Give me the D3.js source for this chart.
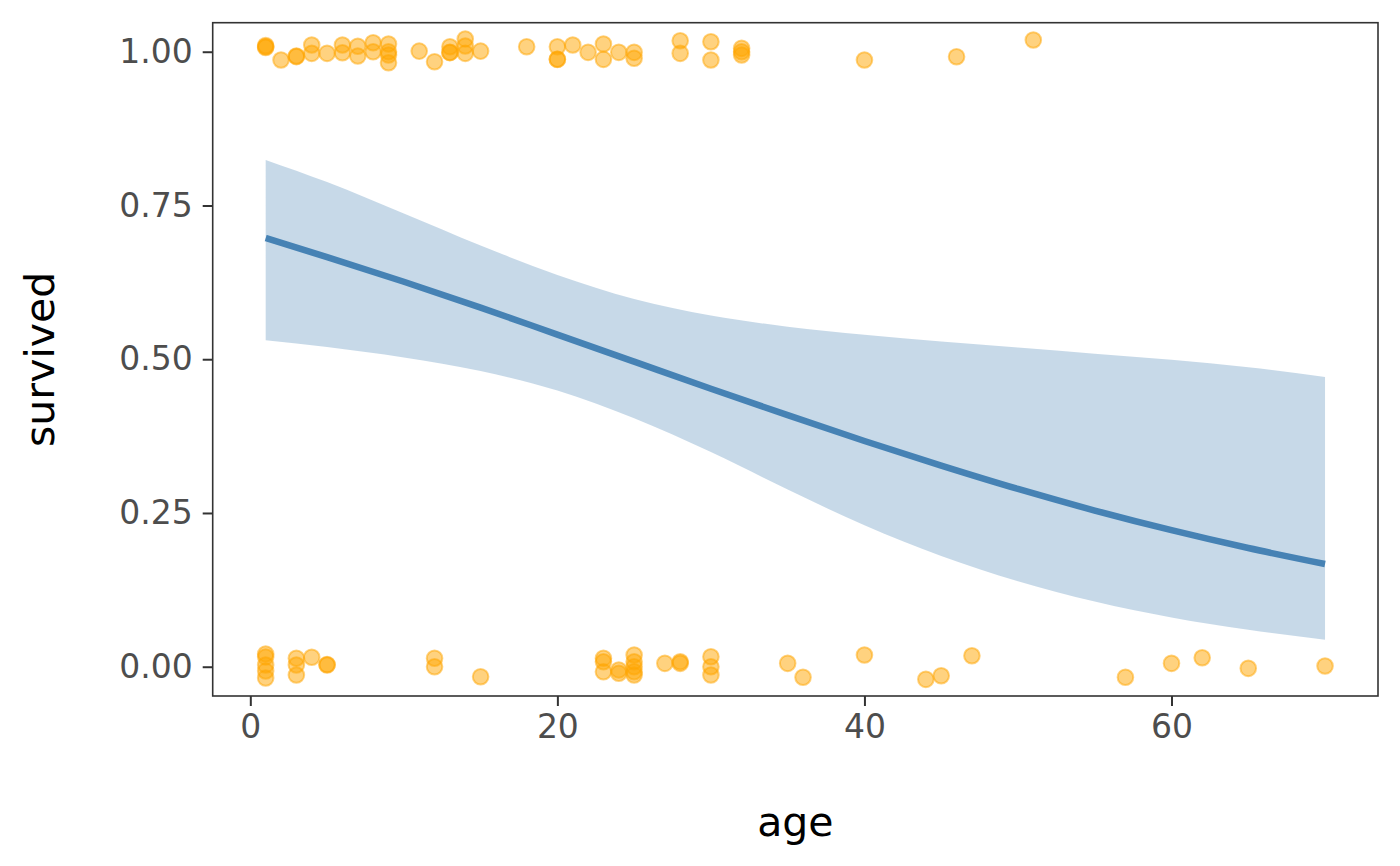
<!DOCTYPE html>
<html>
<head>
<meta charset="utf-8">
<script src="https://cdn.jsdelivr.net/npm/d3@7"></script>
<style>
  html, body { margin: 0; padding: 0; background: #ffffff; }
  svg { display: block; }
  text { font-family: "DejaVu Sans", sans-serif; }
</style>
</head>
<body>
<svg id="chart" width="1400" height="866"></svg>
<script>
// ---- Data ----
// jittered passenger points: age and jittered "survived" value
const pointAges = [
  1,1,1,2,3,3,4,4,5,6,6,7,7,8,8,9,9,9,9,11,12,13,13,13,14,14,14,15,18,20,20,20,21,22,23,23,24,25,25,28,28,30,30,32,32,32,40,46,51,
  1,1,1,1,1,3,3,3,4,5,5,12,12,15,23,23,23,24,24,25,25,25,25,25,27,28,28,30,30,30,35,36,40,44,45,47,57,60,62,65,70
];
const pointSurvived = [
  1.008,1.010,1.007,0.9865,0.993,0.992,1.011,0.9974,0.9974,1.011,0.9984,1.009,0.993,1.0146,1.000,1.0125,1.000,0.9946,0.982,1.001,0.9837,1.008,0.999,0.9985,1.0206,1.0093,0.9974,1.001,1.008,1.008,0.9876,0.9878,1.011,0.999,1.0125,0.9876,0.999,0.999,0.9893,1.0179,0.9974,1.0163,0.9865,1.0055,1.000,0.9946,0.9865,0.9919,1.019,
  0.0207,0.0158,0.0028,-0.007,-0.0184,0.0137,0.0028,-0.0135,0.0153,0.0028,0.0035,0.0137,0.000,-0.0163,0.0137,0.0081,-0.0081,-0.0054,-0.0107,0.019,0.0081,0.000,-0.0081,-0.0135,0.0055,0.0081,0.0055,0.0163,0.000,-0.0135,0.0055,-0.0172,0.019,-0.0205,-0.0146,0.0179,-0.0172,0.0055,0.0146,-0.0026,0.0011
];
// fitted logistic curve and confidence band
const fitAges  = [1, 5, 10, 15, 20, 25, 30, 35, 40, 45, 50, 55, 60, 65, 70];
const fitValue = [0.697, 0.666, 0.626, 0.584, 0.540, 0.496, 0.452, 0.409, 0.367, 0.327, 0.289, 0.254, 0.222, 0.193, 0.167];
const fitUpper = [0.824, 0.788, 0.737, 0.685, 0.637, 0.598, 0.571, 0.553, 0.540, 0.529, 0.519, 0.509, 0.499, 0.487, 0.471];
const fitLower = [0.531, 0.520, 0.503, 0.481, 0.449, 0.404, 0.349, 0.288, 0.230, 0.180, 0.139, 0.106, 0.080, 0.060, 0.044];
const xTicks = [0, 20, 40, 60];
const yTicks = [0.00, 0.25, 0.50, 0.75, 1.00];
const xTitle = "age";
const yTitle = "survived";

// ---- Layout ----
const svg = d3.select("#chart");
const panel = { left: 212.7, right: 1378, top: 22.7, bottom: 696 };

const x = d3.scaleLinear().domain([-2.45, 73.45]).range([panel.left, panel.right]);
const y = d3.scaleLinear().domain([-0.0476, 1.0472]).range([panel.bottom, panel.top]);

const g = svg.append("g");

// ribbon
const band = fitAges.map((a, i) => ({ a, lo: fitLower[i], hi: fitUpper[i], v: fitValue[i] }));
g.append("path")
  .datum(band)
  .attr("fill", "steelblue")
  .attr("fill-opacity", 0.3)
  .attr("d", d3.area().curve(d3.curveMonotoneX)
    .x(d => x(d.a)).y0(d => y(d.lo)).y1(d => y(d.hi)));

// fitted line
g.append("path")
  .datum(band)
  .attr("fill", "none")
  .attr("stroke", "steelblue")
  .attr("stroke-width", 6.5)
  .attr("d", d3.line().curve(d3.curveMonotoneX).x(d => x(d.a)).y(d => y(d.v)));

// points
const pts = pointAges.map((a, i) => ({ a, s: pointSurvived[i] }));
g.append("g").selectAll("circle")
  .data(pts)
  .enter().append("circle")
  .attr("cx", d => x(d.a))
  .attr("cy", d => y(d.s))
  .attr("r", 7.8)
  .attr("fill", "orange")
  .attr("fill-opacity", 0.5)
  .attr("stroke", "orange")
  .attr("stroke-opacity", 0.5)
  .attr("stroke-width", 2);

// panel border
svg.append("rect")
  .attr("x", panel.left).attr("y", panel.top)
  .attr("width", panel.right - panel.left)
  .attr("height", panel.bottom - panel.top)
  .attr("fill", "none")
  .attr("stroke", "#333333")
  .attr("stroke-width", 1.6);

// axes
const xAxis = svg.append("g")
  .attr("transform", `translate(0,${panel.bottom})`)
  .call(d3.axisBottom(x).tickValues(xTicks).tickSize(10).tickPadding(9).tickFormat(d3.format("d")));
const yAxis = svg.append("g")
  .attr("transform", `translate(${panel.left},0)`)
  .call(d3.axisLeft(y).tickValues(yTicks).tickSize(10).tickPadding(10).tickFormat(d3.format(".2f")));

[xAxis, yAxis].forEach(ax => {
  ax.select(".domain").remove();
  ax.selectAll(".tick line").attr("stroke", "#333333").attr("stroke-width", 2);
  ax.selectAll(".tick text")
    .attr("fill", "#4D4D4D")
    .style("font-size", "33px")
    .style("font-family", "DejaVu Sans, sans-serif");
});

// titles
svg.append("text")
  .attr("x", (panel.left + panel.right) / 2)
  .attr("y", 836)
  .attr("text-anchor", "middle")
  .attr("fill", "#000000")
  .style("font-size", "41px")
  .text(xTitle);

svg.append("text")
  .attr("transform", `translate(54,${(panel.top + panel.bottom) / 2}) rotate(-90)`)
  .attr("text-anchor", "middle")
  .attr("fill", "#000000")
  .style("font-size", "41px")
  .text(yTitle);
</script>
</body>
</html>
